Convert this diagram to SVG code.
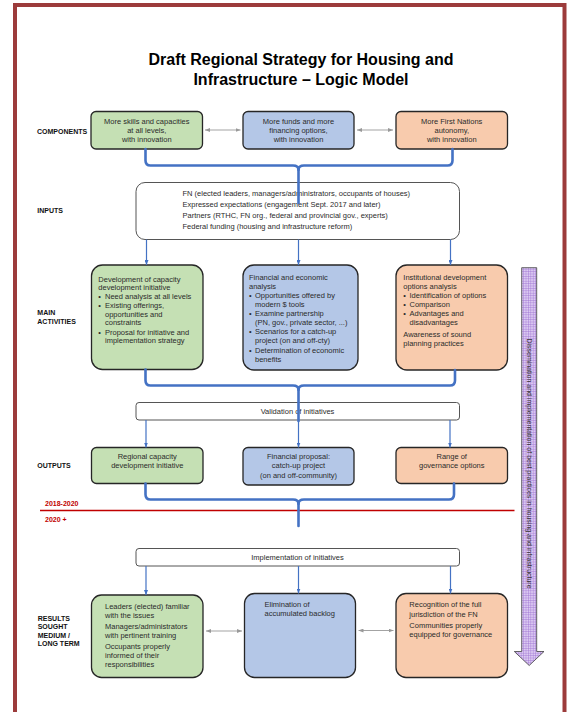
<svg xmlns="http://www.w3.org/2000/svg" width="571" height="712" viewBox="0 0 571 712">
<defs>
<style>
.t{font-family:"Liberation Sans",Arial,sans-serif;font-size:7.5px;fill:#2b2b2b}
.c{text-anchor:middle}
.lab{font-family:"Liberation Sans",Arial,sans-serif;font-size:7px;font-weight:bold;fill:#111}
.yr{font-family:"Liberation Sans",Arial,sans-serif;font-size:7px;font-weight:bold;fill:#C00000}
.ttl{font-family:"Liberation Sans",Arial,sans-serif;font-size:16px;font-weight:bold;fill:#000;text-anchor:middle}
.box{stroke:#262626;stroke-width:1.3}
.g{fill:#C5E0B4}.b{fill:#B4C7E7}.o{fill:#F8CBAD}
.w{fill:#fff;stroke:#555;stroke-width:1}
.br{fill:none;stroke:#4472C4;stroke-width:2.6;stroke-linejoin:round;stroke-linecap:round}
.ar{fill:none;stroke:#4472C4;stroke-width:1.2;marker-end:url(#ab)}
.dd{fill:none;stroke:#999;stroke-width:0.9;marker-start:url(#ag);marker-end:url(#ag)}
</style>
<marker id="ab" viewBox="0 0 5 4" refX="5" refY="2" markerWidth="5" markerHeight="4" markerUnits="userSpaceOnUse" orient="auto"><path d="M0,0 L5,2 L0,4z" fill="#4472C4"/></marker>
<marker id="ag" viewBox="0 0 5 4" refX="5" refY="2" markerWidth="5" markerHeight="4" markerUnits="userSpaceOnUse" orient="auto-start-reverse"><path d="M0,0 L5,2 L0,4z" fill="#999"/></marker>
<pattern id="grid" width="2.4" height="2.4" patternUnits="userSpaceOnUse"><rect width="2.4" height="2.4" fill="#DCCAF2"/><path d="M0,0.25H2.4M0.25,0V2.4" stroke="#9B6FD0" stroke-width="0.5"/></pattern>
</defs>
<rect width="571" height="712" fill="#fff"/>
<rect x="15" y="5" width="549.5" height="720" fill="none" stroke="#9C3B3B" stroke-width="4"/>

<g id="title">
<text class="ttl" x="301" y="65">Draft Regional Strategy for Housing and</text>
<text class="ttl" x="301" y="85">Infrastructure – Logic Model</text>
</g>

<g id="row-labels">
<text class="lab" x="37" y="134">COMPONENTS</text>
<text class="lab" x="37.3" y="213">INPUTS</text>
<text class="lab" x="37.3" y="315">MAIN</text>
<text class="lab" x="37.3" y="324">ACTIVITIES</text>
<text class="lab" x="37.3" y="468.3">OUTPUTS</text>
<text class="lab" x="37.7" y="620.5">RESULTS</text>
<text class="lab" x="37.7" y="629">SOUGHT</text>
<text class="lab" x="37.7" y="637.5">MEDIUM /</text>
<text class="lab" x="37.7" y="646">LONG TERM</text>
</g>

<g id="period">
<text class="yr" x="45" y="505.5">2018-2020</text>
<text class="yr" x="45" y="521.5">2020 +</text>
<path d="M40,510.5 H514.5" stroke="#C00000" stroke-width="1.3"/>
</g>

<g id="comp-skills">
<rect class="box g" x="91" y="111.5" width="111.5" height="37.5" rx="5"/>
<text class="t c" x="146.75" y="123.5">More skills and capacities</text>
<text class="t c" x="146.75" y="132.5">at all levels,</text>
<text class="t c" x="146.75" y="141.5">with innovation</text>
</g>
<g id="comp-funds">
<rect class="box b" x="243" y="111.5" width="111" height="37.5" rx="5"/>
<text class="t c" x="298.5" y="123.5">More funds and more</text>
<text class="t c" x="298.5" y="132.5">financing options,</text>
<text class="t c" x="298.5" y="141.5">with innovation</text>
</g>
<g id="comp-autonomy">
<rect class="box o" x="396" y="111.5" width="111.5" height="37.5" rx="5"/>
<text class="t c" x="451.75" y="123.5">More First Nations</text>
<text class="t c" x="451.75" y="132.5">autonomy,</text>
<text class="t c" x="451.75" y="141.5">with innovation</text>
</g>

<g id="inputs">
<rect class="w" x="136" y="182.5" width="323.5" height="57" rx="9"/>
<text class="t" x="182.5" y="195.5">FN (elected leaders, managers/administrators, occupants of houses)</text>
<text class="t" x="182.5" y="206.5">Expressed expectations (engagement Sept. 2017 and later)</text>
<text class="t" x="182.5" y="217.5">Partners (RTHC, FN org., federal and provincial gov., experts)</text>
<text class="t" x="182.5" y="229">Federal funding (housing and infrastructure reform)</text>
</g>

<g id="act-capacity">
<rect class="box g" x="91.5" y="265" width="111.5" height="104.5" rx="11"/>
<text class="t" x="98.3" y="281.5">Development of capacity</text>
<text class="t" x="98.3" y="290">development initiative</text>
<text class="t" x="98.3" y="298.5">•</text><text class="t" x="105" y="298.5">Need analysis at all levels</text>
<text class="t" x="98.3" y="308">•</text><text class="t" x="105" y="308">Existing offerings,</text>
<text class="t" x="105" y="316.7">opportunities and</text>
<text class="t" x="105" y="325.2">constraints</text>
<text class="t" x="98.3" y="334.7">•</text><text class="t" x="105" y="334.7">Proposal for initiative and</text>
<text class="t" x="105" y="343.3">implementation strategy</text>
</g>
<g id="act-financial">
<rect class="box b" x="243" y="265" width="115" height="105" rx="11"/>
<text class="t" x="249" y="280">Financial and economic</text>
<text class="t" x="249" y="288.5">analysis</text>
<text class="t" x="249" y="298.3">•</text><text class="t" x="255" y="298.3">Opportunities offered by</text>
<text class="t" x="255" y="306.8">modern $ tools</text>
<text class="t" x="249" y="316">•</text><text class="t" x="255" y="316">Examine partnership</text>
<text class="t" x="255" y="325">(PN, gov., private sector, ...)</text>
<text class="t" x="249" y="334">•</text><text class="t" x="255" y="334">Scenarios for a catch-up</text>
<text class="t" x="255" y="343.3">project (on and off-cty)</text>
<text class="t" x="249" y="352.7">•</text><text class="t" x="255" y="352.7">Determination of economic</text>
<text class="t" x="255" y="361.5">benefits</text>
</g>
<g id="act-institutional">
<rect class="box o" x="396" y="265" width="111.5" height="105" rx="11"/>
<text class="t" x="403.3" y="280">Institutional development</text>
<text class="t" x="403.3" y="289">options analysis</text>
<text class="t" x="403.3" y="297.7">•</text><text class="t" x="409.5" y="297.7">Identification of options</text>
<text class="t" x="403.3" y="306.7">•</text><text class="t" x="409.5" y="306.7">Comparison</text>
<text class="t" x="403.3" y="316">•</text><text class="t" x="409.5" y="316">Advantages and</text>
<text class="t" x="409.5" y="325">disadvantages</text>
<text class="t" x="403.3" y="336.7">Awareness of sound</text>
<text class="t" x="403.3" y="345.7">planning practices</text>
</g>

<g id="validation">
<rect class="w" x="136" y="402.5" width="323.5" height="17.5" rx="3"/>
<text class="t c" x="297.5" y="413.8">Validation of initiatives</text>
</g>

<g id="out-capacity">
<rect class="box g" x="91.5" y="447.5" width="111.5" height="36" rx="5"/>
<text class="t c" x="147.25" y="459.3">Regional capacity</text>
<text class="t c" x="147.25" y="468.3">development initiative</text>
</g>
<g id="out-financial">
<rect class="box b" x="243" y="447.5" width="111" height="37.5" rx="5"/>
<text class="t c" x="298.5" y="459.3">Financial proposal:</text>
<text class="t c" x="298.5" y="468.3">catch-up project</text>
<text class="t c" x="298.5" y="477.5">(on and off-community)</text>
</g>
<g id="out-governance">
<rect class="box o" x="396" y="447.5" width="111.5" height="36" rx="5"/>
<text class="t c" x="451.75" y="459.3">Range of</text>
<text class="t c" x="451.75" y="468.3">governance options</text>
</g>

<g id="implementation">
<rect class="w" x="136" y="548.5" width="323.5" height="17.5" rx="3"/>
<text class="t c" x="297.5" y="560">Implementation of initiatives</text>
</g>

<g id="res-leaders">
<rect class="box g" x="91.5" y="595" width="111.5" height="82.5" rx="10"/>
<text class="t" x="105" y="609.3">Leaders (elected) familiar</text>
<text class="t" x="105" y="618.3">with the issues</text>
<text class="t" x="105" y="629">Managers/administrators</text>
<text class="t" x="105" y="638.3">with pertinent training</text>
<text class="t" x="105" y="649.3">Occupants properly</text>
<text class="t" x="105" y="658.3">informed of their</text>
<text class="t" x="105" y="667.3">responsibilities</text>
</g>
<g id="res-backlog">
<rect class="box b" x="244.5" y="593.5" width="111" height="84" rx="10"/>
<text class="t" x="264.5" y="606.7">Elimination of</text>
<text class="t" x="264.5" y="615.7">accumulated backlog</text>
</g>
<g id="res-jurisdiction">
<rect class="box o" x="396" y="593.5" width="111.5" height="84" rx="10"/>
<text class="t" x="409.3" y="607.3">Recognition of the full</text>
<text class="t" x="409.3" y="617.3">jurisdiction of the FN</text>
<text class="t" x="409.3" y="628">Communities properly</text>
<text class="t" x="409.3" y="636.7">equipped for governance</text>
</g>

<g id="dissemination">
<path d="M521.7,267.7 H536.7 V651.5 H544 L529.2,665.5 L514.3,651.5 H521.7 Z" fill="url(#grid)" stroke="#404040" stroke-width="0.8"/>
<text class="t" style="font-size:7px;fill:#333" text-anchor="middle" transform="translate(526.7,463.5) rotate(90)">Dissemination and implementation of best practices in housing and infrastructure</text>
</g>

<g id="connectors">
<path class="dd" d="M205,130 H240.5"/>
<path class="dd" d="M357,130 H393"/>
<path class="dd" d="M206,631 H242"/>
<path class="dd" d="M358.5,630.5 H393.5"/>
<path class="br" d="M145.5,149 V160.5 Q145.5,165.5 150.5,165.5 H293 Q298.5,165.5 298.5,170 Q298.5,165.5 304,165.5 H447.5 Q452.5,165.5 452.5,160.5 V149"/>
<path class="br" d="M298.5,168 V203"/>
<path class="ar" d="M146.5,239.5 V265"/>
<path class="ar" d="M298.5,239.5 V265"/>
<path class="ar" d="M450.5,239.5 V265"/>
<path class="br" d="M145.5,369.5 V380.5 Q145.5,385.5 150.5,385.5 H293 Q298.5,385.5 298.5,390 Q298.5,385.5 304,385.5 H450 Q455,385.5 455,380.5 V370"/>
<path class="br" d="M298.5,388 V421"/>
<path class="ar" d="M146,420 V447.5"/>
<path class="ar" d="M298.5,421 V447.5"/>
<path class="ar" d="M450,420 V447.5"/>
<path class="br" d="M145.5,483.5 V494.5 Q145.5,499.5 150.5,499.5 H293 Q298.5,499.5 298.5,504 Q298.5,499.5 304,499.5 H449 Q454,499.5 454,494.5 V483.5"/>
<path class="br" d="M298.5,502 V526"/>
<path class="ar" d="M146,566 V595"/>
<path class="ar" d="M298.5,566 V593.5"/>
<path class="ar" d="M450.5,566 V593.5"/>
</g>
</svg>
